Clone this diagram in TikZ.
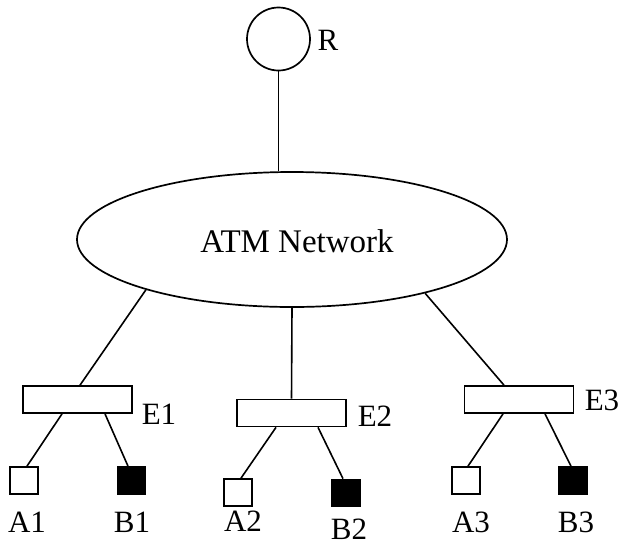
\documentclass[tikz,border=0pt]{standalone}
\usepackage{fontspec}
\setmainfont{Liberation Serif}
\usetikzlibrary{shapes.geometric}
\begin{document}
\begin{tikzpicture}[x=1pt,y=-1pt,
  lbl/.style={inner sep=0pt,font=\fontsize{31}{31}\selectfont},
  ebox/.style={draw,line width=1.7pt,minimum width=109pt,minimum height=27pt,inner sep=0pt},
  host/.style={draw,line width=1.7pt,minimum width=28pt,minimum height=27pt,inner sep=0pt},
  hostB/.style={host,fill=black},
  link/.style={line width=1.6pt}]
\useasboundingbox (0,0) rectangle (623,547);
% router and network cloud
\node[circle,draw,line width=1.7pt,minimum size=63pt,inner sep=0pt] (R) at (278.5,39) {};
\node[lbl] (Rl) at (328,40) {R};
\node[ellipse,draw,line width=1.7pt,minimum width=430pt,minimum height=135pt,inner sep=0pt] (net) at (292,239.5) {};
\node[lbl,font=\fontsize{33}{33}\selectfont] (netl) at (297,241) {ATM Network};
% edge switches
\node[ebox] (E1) at (77.5,399.5) {};
\node[ebox] (E2) at (291.5,413) {};
\node[ebox] (E3) at (519,399.5) {};
\node[lbl] (E1l) at (159,414) {E1};
\node[lbl] (E2l) at (375,416) {E2};
\node[lbl] (E3l) at (602,400) {E3};
% end hosts
\node[host] (A1) at (24,480.5) {};
\node[hostB] (B1) at (131.5,480.5) {};
\node[host] (A2) at (238,492.5) {};
\node[hostB] (B2) at (346,493) {};
\node[host] (A3) at (466,480.5) {};
\node[hostB] (B3) at (573,480.5) {};
\node[lbl] (A1l) at (27,522) {A1};
\node[lbl] (B1l) at (132,522) {B1};
\node[lbl] (A2l) at (243,521) {A2};
\node[lbl] (B2l) at (349,529.5) {B2};
\node[lbl] (A3l) at (471,522) {A3};
\node[lbl] (B3l) at (576,522) {B3};
% links
\draw[link] (R.south) -- (R.south |- net.north);
\draw[link] (net.199.7) -- ([xshift=2.5pt]E1.north);
\draw[link] (net.south) -- (E2.north);
\draw[link] (net.338.9) -- ([xshift=-15pt]E3.north);
\draw[link] ([xshift=-15.5pt]E1.south) -- ([xshift=3pt]A1.north);
\draw[link] ([xshift=27.5pt]E1.south) -- ([xshift=-3.5pt]B1.north);
\draw[link] ([xshift=-15.5pt]E2.south) -- ([xshift=3pt]A2.north);
\draw[link] ([xshift=26.5pt]E2.south) -- ([xshift=-3pt]B2.north);
\draw[link] ([xshift=-16pt]E3.south) -- ([xshift=2pt]A3.north);
\draw[link] ([xshift=26pt]E3.south) -- ([xshift=-2pt]B3.north);
\end{tikzpicture}
\end{document}
